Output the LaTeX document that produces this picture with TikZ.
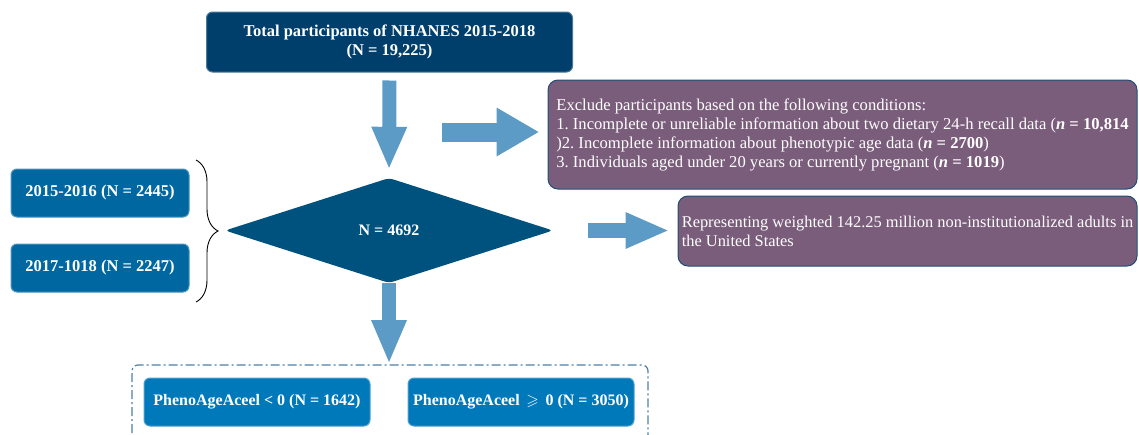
\documentclass[tikz,border=0pt]{standalone}
\usepackage{amssymb}
\usepackage{fontspec}
\setmainfont{Liberation Serif}
\usetikzlibrary{shapes.geometric,arrows.meta,decorations.pathreplacing}
\definecolor{navy}{HTML}{003F6B}
\definecolor{dianavy}{HTML}{00527E}
\definecolor{yrblue}{HTML}{0067A1}
\definecolor{grpblue}{HTML}{0079BB}
\definecolor{arrowblue}{HTML}{5B9BC5}
\definecolor{plum}{HTML}{7A5C7B}
\definecolor{plumedge}{HTML}{1F4E79}
\definecolor{frameblue}{HTML}{4F7FA6}
\frenchspacing

\begin{document}
\begin{tikzpicture}[x=1pt,y=-1pt,
  bluebox/.style={draw=#1!70!white, fill=#1, rounded corners=6pt, line width=1pt,
    text=white, align=center, font=\bfseries\fontsize{16.5}{19}\selectfont},
  plumbox/.style={draw=plumedge, fill=plum, rounded corners=10pt, line width=1pt,
    text=white, align=left, font=\fontsize{16.4}{19}\selectfont},
  fatarrow/.style n args={3}{draw=arrowblue, line width=#1pt,
    -{Triangle[width=#2pt, length=#3pt, line width=0pt]}}]
  \useasboundingbox (0,0) rectangle (1139,434);

  % boxes
  \node[bluebox=navy, minimum width=366pt, minimum height=60pt] (total) at (389.5,42)
    {Total participants of NHANES 2015-2018\\(N = 19,225)};
  \node[bluebox=yrblue, minimum width=178pt, minimum height=48pt] (yr15) at (100,193) {2015-2016 (N = 2445)};
  \node[bluebox=yrblue, minimum width=178pt, minimum height=48pt] (yr17) at (100,268) {2017-1018 (N = 2247)};
  \node[diamond, fill=dianavy, minimum width=328pt, minimum height=105pt, inner sep=0pt,
    rounded corners=4pt, text=white, font=\bfseries\fontsize{16}{19}\selectfont] (pool) at (389,230.5) {N = 4692};
  \node[plumbox, minimum width=589pt, minimum height=109pt, font=\fontsize{16.6}{19}\selectfont] (excl) at (842.5,134.5)
    {Exclude participants based on the following conditions:\\
     1. Incomplete or unreliable information about two dietary 24-h recall data (\textbf{\textit{n} = 10,814}\\
     )2. Incomplete information about phenotypic age data (\textbf{\textit{n} = 2700})\\
     3. Individuals aged under 20 years or currently pregnant (\textbf{\textit{n} = 1019})};
  \node[plumbox, minimum width=459pt, minimum height=70pt] (rep) at (907.5,231)
    {Representing weighted 142.25 million non-institutionalized adults in\\the United States};
  \node[bluebox=grpblue, minimum width=226pt, minimum height=48pt, font=\bfseries\fontsize{16}{19}\selectfont] (neg) at (257,402)
    {PhenoAgeAceel < 0 (N = 1642)};
  \node[bluebox=grpblue, minimum width=226pt, minimum height=48pt, font=\bfseries\fontsize{16}{19}\selectfont] (pos) at (521,402)
    {PhenoAgeAceel \,$\geqslant$\, 0 (N = 3050)};

  % brace and group frame
  \draw[line width=0.9pt, decorate, decoration={brace, amplitude=22pt}] (196,160) -- (196,302);
  \draw[frameblue, line width=1.2pt, rounded corners=6pt,
    dash pattern=on 9pt off 3pt on 2pt off 3pt] (132,450) |- (389,365) -| (648,450);

  % arrows
  \coordinate (exfrom) at (442,132);
  \coordinate (grp) at (389,365);
  \draw[fatarrow={14}{36}{41}, shorten <=8pt, shorten >=10pt] (total.south) -- (pool.north);
  \draw[fatarrow={19}{49}{42}, shorten >=9pt] (exfrom) -- (exfrom -| excl.west);
  \draw[fatarrow={15}{37}{42}, shorten <=35pt, shorten >=10pt] (pool.east) -- (pool.east -| rep.west);
  \draw[fatarrow={14}{36}{42}, shorten >=3pt] (pool.south) -- (grp);
\end{tikzpicture}
\end{document}
